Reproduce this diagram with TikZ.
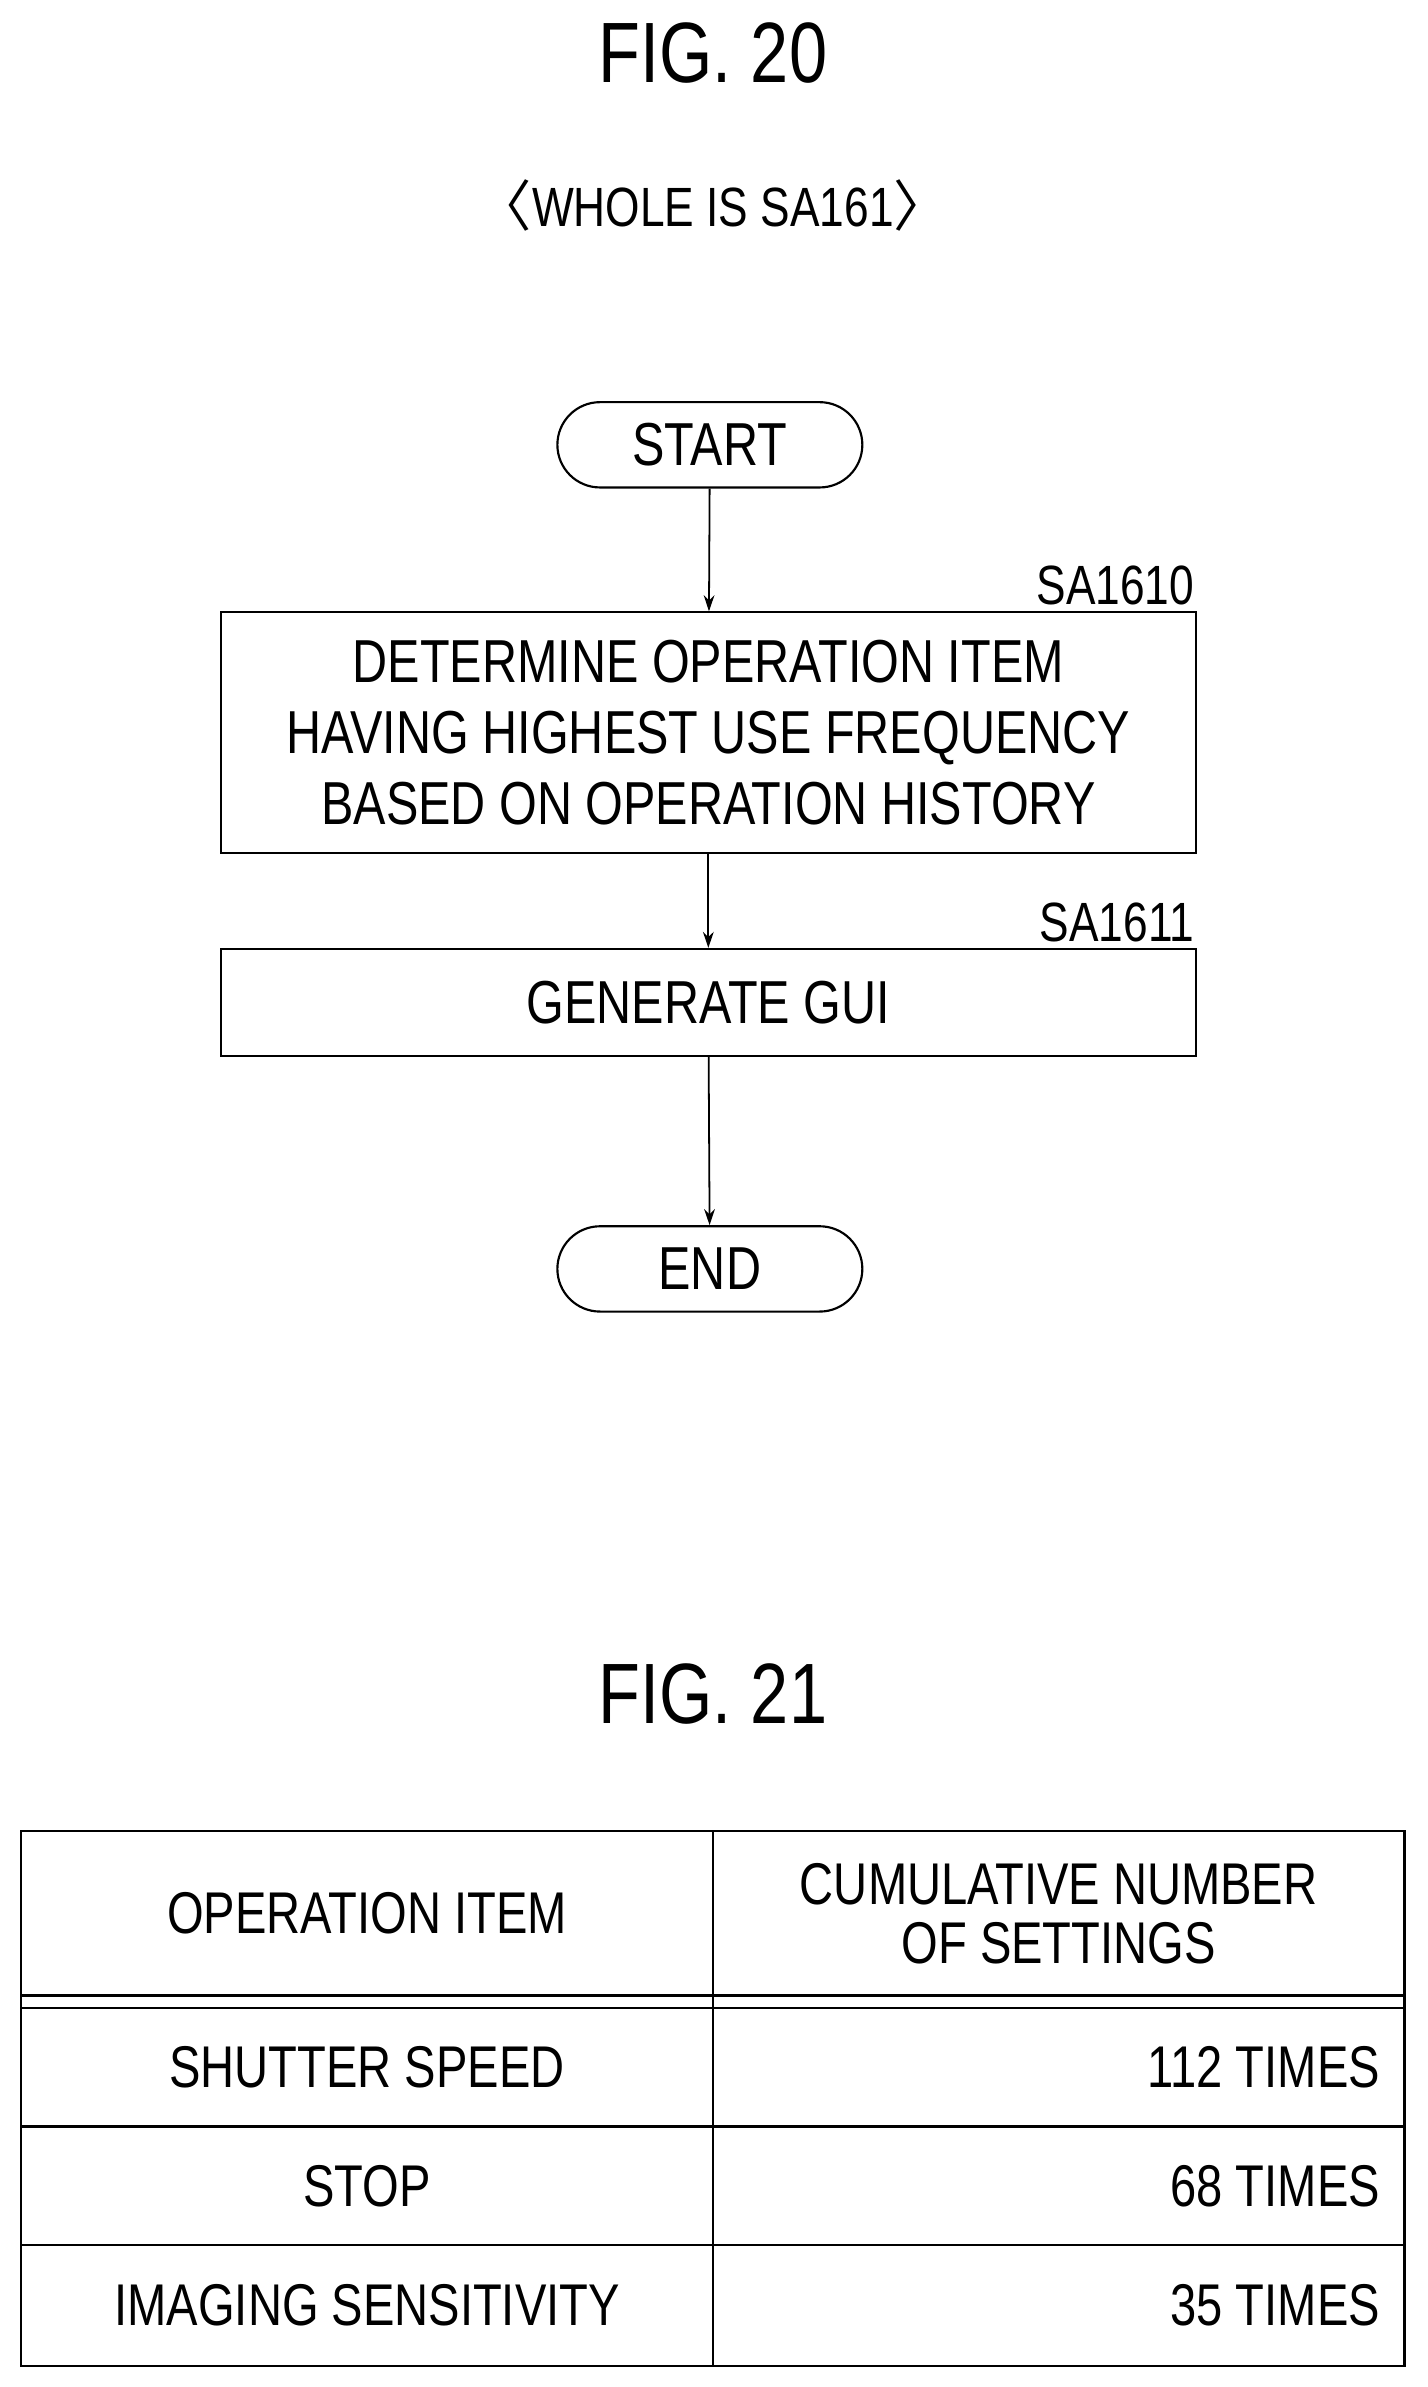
\documentclass[tikz,border=0pt]{standalone}
\usepackage{fontspec}
\setmainfont{Liberation Sans}[FakeStretch=0.8]
\newfontfamily\cjk{Noto Sans CJK JP}
\usetikzlibrary{positioning,arrows.meta,shapes.misc}
\tikzset{
  procbox/.style={draw,line width=1.2pt,minimum width=19.2cm,align=center,font=\fontsize{34}{40}\selectfont},
  term/.style={draw,line width=1.2pt,rounded rectangle,minimum width=6.24cm,minimum height=1.68cm,font=\fontsize{34}{40}\selectfont},
  flow/.style={line width=1pt,-{Stealth[length=9pt,width=6pt]}},
  lbl/.style={font=\fontsize{31}{37}\selectfont},
  cell/.style={font=\fontsize{33}{39}\selectfont,align=center}
}
\begin{document}
\begin{tikzpicture}[x=0.03cm,y=-0.03cm]
\useasboundingbox (0,0) rectangle (937,1567);

% titles
\node[font=\fontsize{48}{54}\selectfont] (fig20) at (468,35) {FIG. 20};
\node[lbl] (whole) at (468,135) {{\cjk 〈}WHOLE IS SA161{\cjk 〉}};

% flowchart
\node[term] (start) at (466,292) {START};
\node[procbox,minimum height=4.74cm] (s1610) at (465,481) {DETERMINE OPERATION ITEM\\HAVING HIGHEST USE FREQUENCY\\BASED ON OPERATION HISTORY};
\node[procbox,minimum height=2.1cm] (s1611) at (465,658) {GENERATE GUI};
\node[term] (end) at (466,833) {END};
\node[lbl,above left=0pt and -2pt] at (s1610.north east) {SA1610};
\node[lbl,above left=0pt and -2pt] at (s1611.north east) {SA1611};

\draw[flow] (start) -- (s1610);
\draw[flow] (s1610) -- (s1611);
\draw[flow] (s1611) -- (end);

% table
\node[font=\fontsize{48}{54}\selectfont] (fig21) at (468,1112) {FIG. 21};
\draw[line width=1.2pt] (14,1202) rectangle (922,1553);
\draw[line width=1.2pt] (468,1202) -- (468,1553);
\foreach \y in {1310,1318,1396,1474}
  \draw[line width=1.2pt] (14,\y) -- (922,\y);

\node[cell] (h1) at (241,1256) {OPERATION ITEM};
\node[cell,font=\fontsize{33}{33}\selectfont] (h2) at (695,1256) {CUMULATIVE NUMBER\\OF SETTINGS};
\node[cell] (r1a) at (241,1357) {SHUTTER SPEED};
\node[cell] (r2a) at (241,1435) {STOP};
\node[cell] (r3a) at (241,1513) {IMAGING SENSITIVITY};
\node[cell,anchor=east] (r1b) at (910,1357) {112 TIMES};
\node[cell,anchor=east] (r2b) at (910,1435) {68 TIMES};
\node[cell,anchor=east] (r3b) at (910,1513) {35 TIMES};
\end{tikzpicture}
\end{document}
